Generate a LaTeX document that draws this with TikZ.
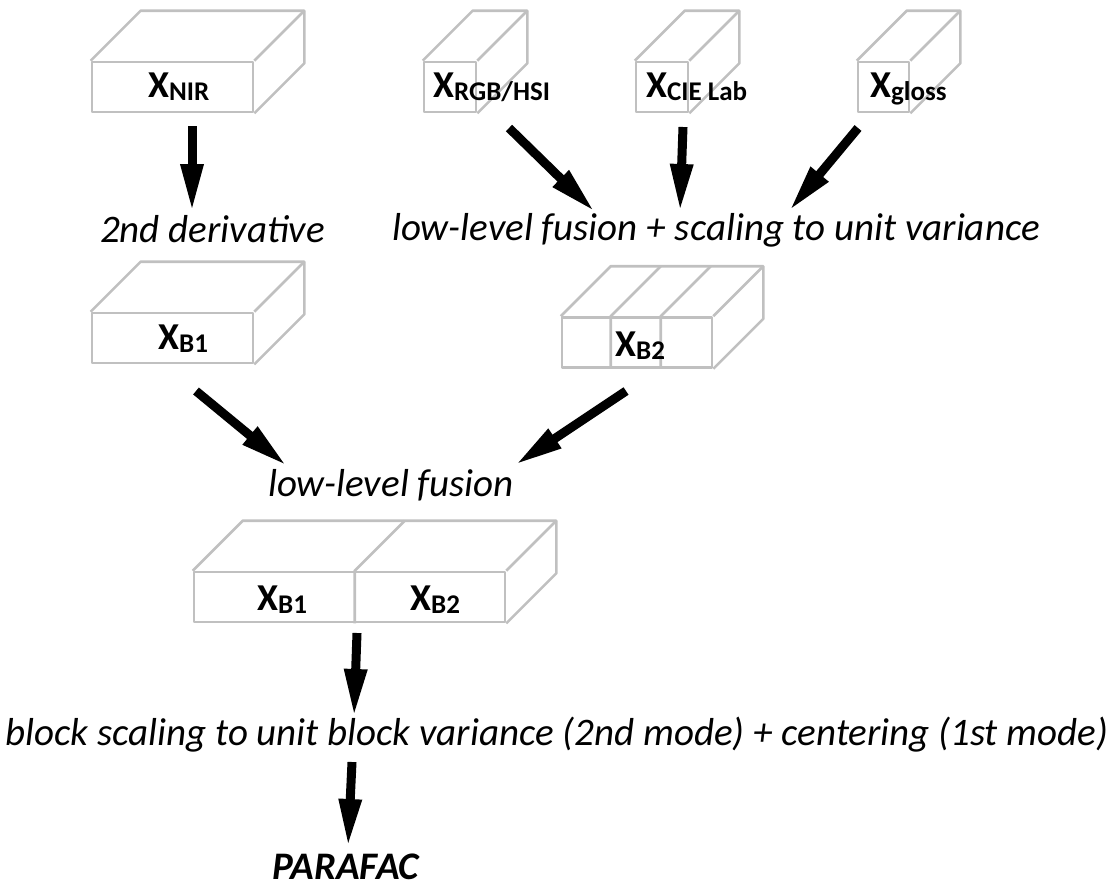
\documentclass[tikz,border=0pt]{standalone}
\usepackage{fontspec}
\setmainfont{Carlito}
\usetikzlibrary{arrows.meta,calc}
\definecolor{boxgray}{RGB}{192,192,192}
\newcommand\Xlab[1]{{\fontsize{38}{40}\selectfont\bfseries X\raisebox{-3pt}{\fontsize{27}{29}\selectfont #1}}}
\newcommand\depthfaces[1]{%
  \draw[boxline] (#1.north west) -- ++(50,-50) -| ($(#1.south east)+(50,-50)$) -- (#1.south east);
  \draw[boxline] (#1.north east) -- ++(50,-50);}
\begin{document}
\begin{tikzpicture}[x=1pt,y=-1pt,
  boxline/.style={draw=boxgray,line width=2.6pt,line join=round},
  face/.style={boxline,rectangle,minimum height=50pt,inner sep=0pt},
  lab/.style={anchor=base west,inner sep=0pt},
  txt/.style={anchor=base,inner sep=0pt,font=\fontsize{39}{42}\selectfont\itshape},
  bigarrow/.style={line width=9pt,-{Triangle[length=48pt,width=21pt]}}]
\useasboundingbox (0,0) rectangle (1115,889);
% boxes
\node[face,minimum width=161pt] (nir) at (172.5,87) {};
\depthfaces{nir}
\node[face,minimum width=52pt] (rgb) at (450,87) {};
\depthfaces{rgb}
\node[face,minimum width=52pt] (cie) at (662,87) {};
\depthfaces{cie}
\node[face,minimum width=51pt] (gloss) at (883.5,87) {};
\depthfaces{gloss}
\node[face,minimum width=161pt] (bone) at (172.5,338) {};
\depthfaces{bone}
\node[face,minimum width=150pt] (btwo) at (637,342.5) {};
\depthfaces{btwo}
\draw[boxline] ($(btwo.south west)+(50,0)$) -- ($(btwo.north west)+(50,0)$) -- ++(50,-50);
\draw[boxline] ($(btwo.south west)+(100,0)$) -- ($(btwo.north west)+(100,0)$) -- ++(50,-50);
\node[face,minimum width=311pt] (fused) at (349.5,597) {};
\depthfaces{fused}
\draw[boxline] ($(fused.south west)+(162,0)$) -- ($(fused.north west)+(162,0)$) -- ++(50,-50);
% labels
\node[lab] (lnir) at (148,97) {\Xlab{NIR}};
\node[lab] (lrgb) at (433,97) {\Xlab{RGB/HSI}};
\node[lab] (lcie) at (646,97) {\Xlab{CIE Lab}};
\node[lab] (lgloss) at (870,97) {\Xlab{gloss}};
\node[lab] (lbone) at (158,349) {\Xlab{B1}};
\node[lab] (lbtwo) at (615,356) {\Xlab{B2}};
\node[lab] (lfone) at (257,610) {\Xlab{B1}};
\node[lab] (lftwo) at (410,610) {\Xlab{B2}};
% texts
\node[txt] (deriv) at (212.5,242) {2nd derivative};
\node[txt] (lowone) at (716,240) {low-level fusion + scaling to unit variance};
\node[txt] (lowtwo) at (391,496) {low-level fusion};
\node[txt] (scal) at (557,745) {block scaling to unit block variance (2nd mode) + centering (1st mode)};
\node[anchor=base west,inner sep=0pt,font=\fontsize{39}{42}\selectfont\bfseries\itshape] (parafac) at (272,879) {PARAFAC};
% arrow end points
\coordinate (a1s) at (192,126); \coordinate (a1e) at (192,212);
\coordinate (a2s) at (509,128); \coordinate (a2e) at (595,212);
\coordinate (a3s) at (683,127); \coordinate (a3e) at (680,212);
\coordinate (a4s) at (858,128); \coordinate (a4e) at (789,211);
\coordinate (a5s) at (196,391); \coordinate (a5e) at (287,466);
\coordinate (a6s) at (626,391); \coordinate (a6e) at (515,465);
\coordinate (a7s) at (357,633); \coordinate (a7e) at (354,717);
\coordinate (a8s) at (352,762); \coordinate (a8e) at (348,847);
\foreach \i in {1,...,8} \draw[bigarrow] (a\i s) -- (a\i e);
\end{tikzpicture}
\end{document}
